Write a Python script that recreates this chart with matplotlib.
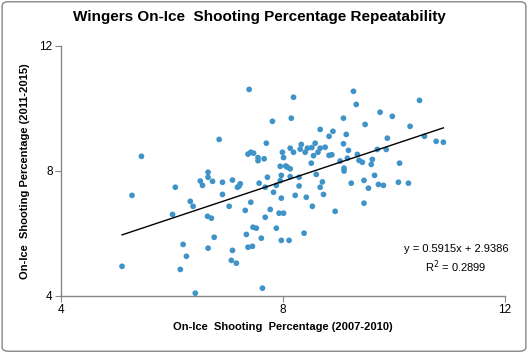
import matplotlib
matplotlib.use("Agg")
import matplotlib.pyplot as plt
from matplotlib.patches import FancyBboxPatch
import numpy as np

plt.rcParams['font.family'] = ['Liberation Sans', 'DejaVu Sans']

x_2007_2010 = [6.85, 5.45, 6.65, 6.65, 6.51, 6.73, 6.91, 6.55, 6.06, 7.39,
               8.19, 7.81, 8.15, 9.09, 8.67, 8.90, 8.83, 7.70, 9.09, 8.33,
               8.58, 8.13, 8.19, 8.31, 8.44, 8.40, 8.52, 8.67, 8.76, 8.63,
               8.55, 8.83, 8.88, 7.99, 8.01, 7.37, 7.42, 7.47, 7.55, 7.55,
               7.66, 7.95, 8.05, 8.08, 8.13, 8.51, 9.03, 9.10, 9.10, 7.09,
               7.23, 7.21, 7.18, 7.57, 7.72, 7.95, 7.97, 8.13, 8.29, 8.60,
               8.71, 8.67, 7.88, 7.68, 8.29, 9.27, 9.32, 10.46, 9.75, 9.97,
               9.48, 10.29, 9.14, 9.88, 10.55, 10.76, 10.89, 9.18, 9.34, 9.70,
               9.86, 9.16, 9.37, 9.43, 9.61, 9.59, 10.10, 9.65, 9.46, 9.23,
               9.54, 9.72, 9.81, 10.08, 10.26, 5.28, 6.91, 6.33, 6.38, 7.03,
               6.01, 6.64, 6.71, 6.76, 6.20, 6.65, 6.26, 5.10, 6.15, 6.42,
               7.07, 7.83, 7.97, 8.22, 8.42, 8.73, 7.42, 7.32, 7.77, 7.93,
               8.01, 8.53, 8.94, 7.68, 7.46, 7.52, 7.88, 7.34, 7.61, 8.38,
               7.97, 8.11, 7.37, 7.45, 7.09, 7.16, 7.63, 9.46]
y_2011_2015 = [9.01, 8.47, 7.96, 7.80, 7.68, 7.67, 7.64, 7.54, 7.48, 10.61,
               10.36, 9.59, 9.69, 9.69, 9.33, 9.27, 9.11, 8.89, 8.87, 8.85,
               8.89, 8.73, 8.60, 8.70, 8.73, 8.60, 8.75, 8.73, 8.76, 8.60,
               8.49, 8.50, 8.52, 8.60, 8.43, 8.54, 8.60, 8.57, 8.43, 8.33,
               8.39, 8.15, 8.16, 8.12, 8.07, 8.25, 8.32, 8.09, 8.00, 7.71,
               7.59, 7.52, 7.48, 7.61, 7.80, 7.69, 7.86, 7.82, 7.80, 7.89,
               7.65, 7.48, 7.54, 7.48, 7.52, 10.55, 10.13, 10.26, 9.88, 9.75,
               9.49, 9.43, 9.17, 9.05, 9.11, 8.95, 8.92, 8.66, 8.53, 8.69,
               8.69, 8.41, 8.34, 8.28, 8.37, 8.21, 8.25, 7.86, 7.70, 7.61,
               7.45, 7.57, 7.54, 7.64, 7.61, 7.22, 7.25, 7.03, 6.87, 6.87,
               6.61, 6.55, 6.49, 5.88, 5.65, 5.53, 5.27, 4.95, 4.85, 4.09,
               5.14, 7.32, 7.13, 7.22, 7.16, 7.25, 7.00, 6.74, 6.77, 6.65,
               6.65, 6.87, 6.71, 6.52, 6.20, 6.17, 6.17, 5.97, 5.85, 6.01,
               5.78, 5.78, 5.56, 5.59, 5.46, 5.05, 4.25, 6.97]

slope = 0.5915
intercept = 2.9386
r_squared = 0.2899
ticks = [4, 8, 12]

fig = plt.figure(figsize=(5.28, 3.53), dpi=100)
border = FancyBboxPatch((0.004, 0.005), 0.992, 0.99, boxstyle="round,pad=0,rounding_size=0.012",
                        transform=fig.transFigure, facecolor='white', edgecolor='#868686',
                        linewidth=1.0, zorder=-10)
fig.patches.append(border)

ax = fig.add_axes([0.1155, 0.1615, 0.8409, 0.7082])
ax.set_facecolor('none')
ax.scatter(x_2007_2010, y_2011_2015, s=17, color='#3f93c8', edgecolors='none', zorder=3)

xs = np.array([min(x_2007_2010), max(x_2007_2010)])
ax.plot(xs, slope * xs + intercept, color='black', linewidth=1.0, zorder=4)

ax.set_xlim(4, 12)
ax.set_ylim(4, 12)
ax.set_xticks(ticks)
ax.set_yticks(ticks)
ax.set_xticklabels([str(t) for t in ticks], fontsize=8.5)
ax.set_yticklabels([str(t) for t in ticks], fontsize=8.5)
for s in ['top', 'right']:
    ax.spines[s].set_visible(False)
for s in ['left', 'bottom']:
    ax.spines[s].set_color('#868686')
    ax.spines[s].set_linewidth(1.0)
ax.tick_params(axis='both', direction='out', length=4, color='#868686', pad=2)

ax.set_xlabel('On-Ice  Shooting  Percentage (2007-2010)', fontsize=8, fontweight='bold', labelpad=4)
ax.set_ylabel('On-Ice  Shooting Percentage (2011-2015)', fontsize=8, fontweight='bold', labelpad=7)

fig.text(0.492, 0.951, 'Wingers On-Ice  Shooting Percentage Repeatability', ha='center', va='center',
         fontsize=11, fontweight='bold')

ax.text(0.89, 0.145, f'y = {slope}x + {intercept}\nR$^2$ = {r_squared}', transform=ax.transAxes,
        ha='center', va='center', fontsize=8, linespacing=1.3)

fig.savefig('out.png', dpi=100)
